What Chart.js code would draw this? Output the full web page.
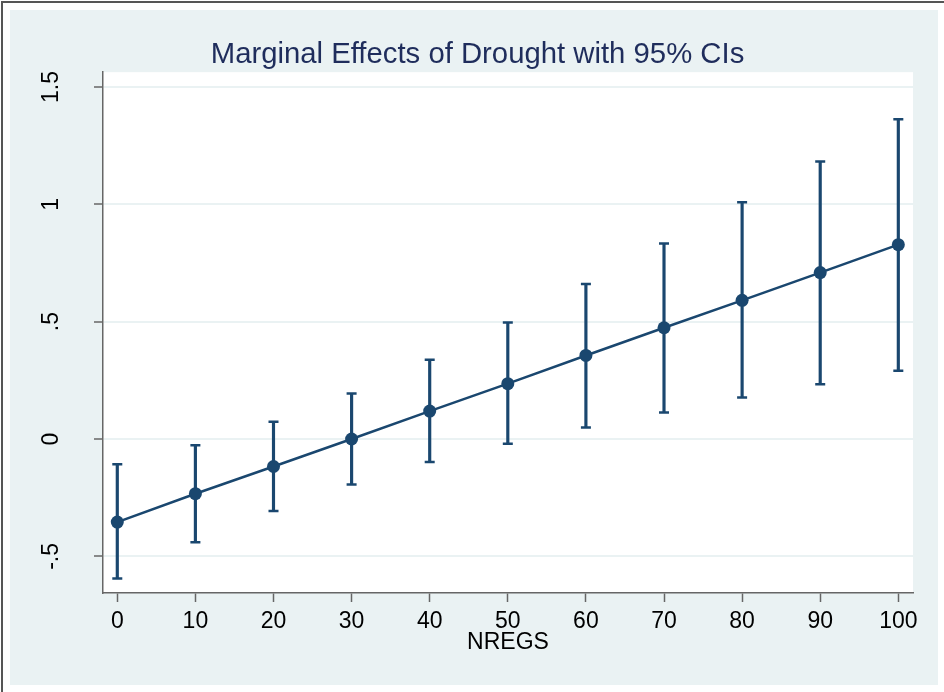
<!DOCTYPE html>
<html>
<head>
<meta charset="utf-8">
<script src="https://cdn.jsdelivr.net/npm/chart.js@4"></script>
<style>
  html, body { margin: 0; padding: 0; background: #fff; }
  #frame {
    position: absolute; left: 1px; top: 1px; width: 943px; height: 691px;
    border-left: 2px solid #555; border-top: 2px solid #555; box-sizing: border-box;
  }
  #box { position: absolute; left: 10px; top: 10px; width: 928px; height: 675px; background: #eaf2f3; }
</style>
</head>
<body>
<div id="frame"></div>
<div id="box"><canvas id="chart" width="928" height="675"></canvas></div>
<script>
// values
const nregs = [0, 10, 20, 30, 40, 50, 60, 70, 80, 90, 100]
const effect = [-0.354, -0.233, -0.117, 0.000, 0.119, 0.236, 0.356, 0.474, 0.591, 0.709, 0.828]
const ciLow = [-0.594, -0.440, -0.307, -0.194, -0.098, -0.020, 0.049, 0.113, 0.177, 0.233, 0.291]
const ciHigh = [-0.108, -0.027, 0.074, 0.194, 0.338, 0.496, 0.660, 0.833, 1.009, 1.182, 1.362]

const xTicks = [0, 10, 20, 30, 40, 50, 60, 70, 80, 90, 100]
const yTicks = [-0.5, 0, 0.5, 1, 1.5]

const navy = '#1a476f'
const axisGray = '#666'

Chart.defaults.font.family = "'Liberation Sans', Arial, sans-serif"
Chart.defaults.color = '#000'

// white plot region like Stata's plotregion
const plotBg = {
    id: 'plotBg',
    beforeDraw(chart) {
        const a = chart.chartArea
        const ctx = chart.ctx
        ctx.save()
        ctx.fillStyle = '#fff'
        ctx.fillRect(a.left, a.top, a.right - a.left, a.bottom - a.top)
        ctx.restore()
    }
}

function stataNum(v) {
    if (v === 0) return '0'
    return (v < 0 ? '-' : '') + String(Math.abs(v)).replace(/^0/, '')
}

new Chart(document.getElementById('chart'), {
    type: 'line',
    data: {
        datasets: [{
            data: nregs.map((x, i) => ({x: x, y: effect[i]})),
            borderColor: navy,
            borderWidth: 2.5,
            backgroundColor: navy,
            pointBackgroundColor: navy,
            pointBorderWidth: 0,
            pointRadius: 6.5,
            tension: 0,
            order: 0
        }, {
            type: 'bar',
            data: nregs.map((x, i) => ({x: x, y: [ciLow[i], ciHigh[i]]})),
            backgroundColor: navy,
            barThickness: 2.5,
            grouped: false,
            order: 1
        }, {
            data: nregs.map((x, i) => ({x: x, y: ciLow[i]})),
            showLine: false,
            pointStyle: 'line',
            pointRadius: 5,
            pointBorderWidth: 2.5,
            pointBorderColor: navy,
            order: 2
        }, {
            data: nregs.map((x, i) => ({x: x, y: ciHigh[i]})),
            showLine: false,
            pointStyle: 'line',
            pointRadius: 5,
            pointBorderWidth: 2.5,
            pointBorderColor: navy,
            order: 2
        }]
    },
    options: {
        responsive: false,
        animation: false,
        layout: {padding: {left: 7, right: 0, top: 0, bottom: 0}},
        plugins: {
            legend: {display: false},
            tooltip: {enabled: false},
            title: {
                display: true,
                text: 'Marginal Effects of Drought with 95% CIs',
                color: '#1f2d5c',
                font: {size: 29.3, weight: 'normal'},
                padding: {top: 27, bottom: 0}
            }
        },
        scales: {
            x: {
                type: 'linear',
                min: -1.83,
                max: 101.88,
                offset: false,
                afterBuildTicks: s => { s.ticks = xTicks.map(v => ({value: v})) },
                afterFit: s => { s.height = 92 },
                grid: {drawOnChartArea: false, offset: false, tickLength: 9, tickColor: axisGray, tickWidth: 1.5},
                border: {color: axisGray, width: 1.5},
                ticks: {font: {size: 23}, padding: 6, maxRotation: 0},
                title: {display: true, text: 'NREGS', font: {size: 23}, padding: {top: 0, bottom: 29}}
            },
            y: {
                type: 'linear',
                min: -0.656,
                max: 1.563,
                afterBuildTicks: s => { s.ticks = yTicks.map(v => ({value: v})) },
                afterFit: s => { s.width = 86 },
                grid: {color: '#eaf2f3', lineWidth: 2, tickLength: 9, tickColor: axisGray, tickWidth: 1.5},
                border: {color: axisGray, width: 1.5},
                ticks: {
                    font: {size: 23},
                    minRotation: 90,
                    maxRotation: 90,
                    crossAlign: 'center',
                    padding: 26,
                    callback: v => stataNum(v)
                }
            },
            y2: {
                position: 'right',
                display: true,
                grid: {display: false},
                border: {display: false},
                ticks: {display: false},
                afterFit: s => { s.width = 25 }
            }
        }
    },
    plugins: [plotBg]
})
</script>
</body>
</html>
